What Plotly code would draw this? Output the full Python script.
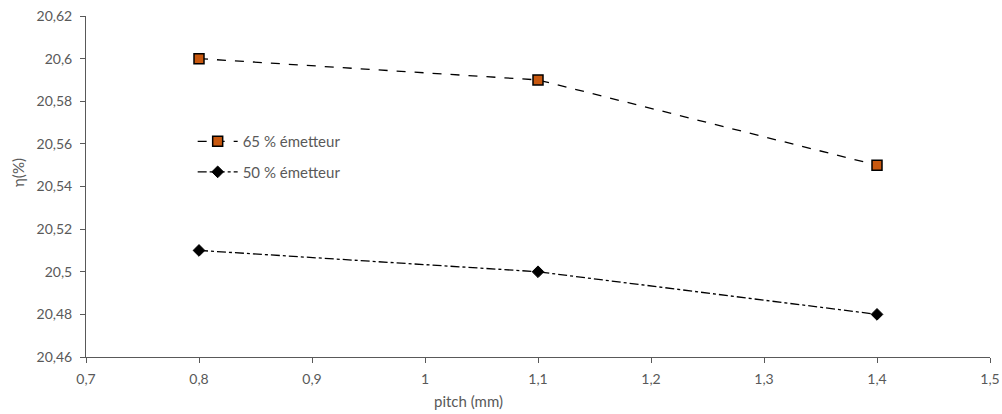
import plotly.graph_objects as go

pitch = [0.8, 1.1, 1.4]
eta_65 = [20.60, 20.59, 20.55]
eta_50 = [20.51, 20.50, 20.48]
names = ["65 % émetteur", "50 % émetteur"]
x_ticks = [0.7, 0.8, 0.9, 1.0, 1.1, 1.2, 1.3, 1.4, 1.5]
y_ticks = [20.46, 20.48, 20.50, 20.52, 20.54, 20.56, 20.58, 20.60, 20.62]
x_title = "pitch (mm)"
y_title = "η(%)"

font_fam = "Lato, Open Sans, sans-serif"
gray = "#595959"

fig = go.Figure()
fig.add_trace(go.Scatter(
    x=pitch, y=eta_65, name=names[0], mode="lines+markers", legendgroup="a",
    line=dict(color="black", width=1.3, dash="dash"),
    marker=dict(symbol="square", size=10, color="#C8580F", line=dict(color="black", width=1.5)),
))
fig.add_trace(go.Scatter(
    x=pitch, y=eta_50, name=names[1], mode="lines+markers", legendgroup="b",
    line=dict(color="black", width=1.3, dash="dashdot"),
    marker=dict(symbol="diamond", size=9, color="black", line=dict(color="black", width=1)),
))

fig.update_layout(
    width=1002, height=414,
    margin=dict(l=86, r=12, t=16, b=57, autoexpand=False),
    plot_bgcolor="white", paper_bgcolor="white",
    separators=", ",
    font=dict(family=font_fam, size=14, color=gray),
    legend=dict(x=0.118, y=0.68, xanchor="left", yanchor="top",
                bgcolor="rgba(0,0,0,0)", tracegroupgap=8, itemwidth=40,
                font=dict(family=font_fam, size=15, color=gray)),
    annotations=[
        dict(text=x_title, xref="paper", yref="paper", x=0.4226, y=-0.128,
             xanchor="center", yanchor="middle", showarrow=False,
             font=dict(family=font_fam, size=15, color=gray)),
        dict(text=y_title, xref="paper", yref="paper", x=-0.0752, y=0.54,
             xanchor="center", yanchor="middle", showarrow=False, textangle=-90,
             font=dict(family=font_fam, size=15, color=gray)),
    ],
)
fig.update_xaxes(
    range=[0.7, 1.5], tickvals=x_ticks, tickformat=".1~f", automargin=False,
    showgrid=False, zeroline=False, showline=True, linecolor="#595959", linewidth=1,
    ticks="outside", ticklen=5, tickcolor="#595959", ticklabelstandoff=4,
)
fig.update_yaxes(
    range=[20.46, 20.62], tickvals=y_ticks, tickformat=".2~f", automargin=False,
    showgrid=False, zeroline=False, showline=True, linecolor="#595959", linewidth=1,
    ticks="outside", ticklen=5, tickcolor="#595959", ticklabelstandoff=5,
)

fig.write_html("out.html", config={"displayModeBar": False})
with open("out.html", encoding="utf-8") as f:
    html = f.read()
html = html.replace("<head>", "<head><style>html,body{margin:0;padding:0;}</style>", 1)
with open("out.html", "w", encoding="utf-8") as f:
    f.write(html)
